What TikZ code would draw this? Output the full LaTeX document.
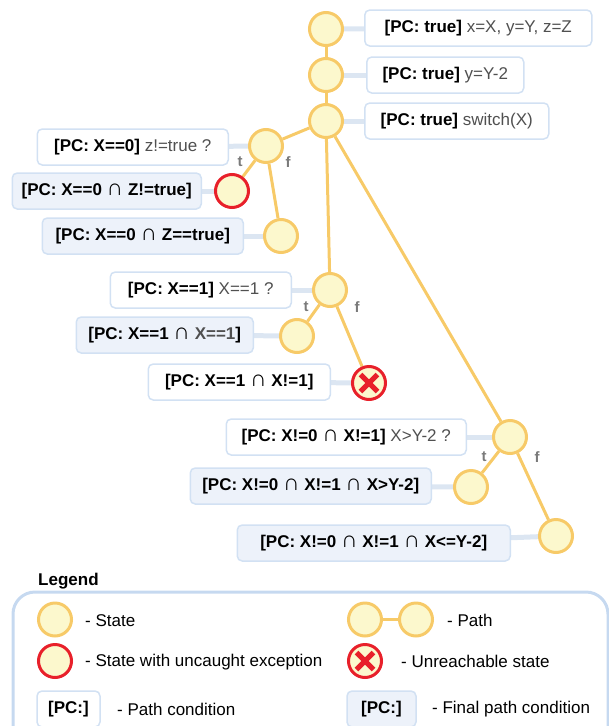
\documentclass[tikz,border=0pt]{standalone}
\usepackage{fontspec}
\setmainfont{Liberation Sans}
\usetikzlibrary{backgrounds}
\definecolor{statefill}{HTML}{FCF8CD}
\definecolor{stateline}{HTML}{F7CA68}
\definecolor{errline}{HTML}{E8202A}
\definecolor{linkline}{HTML}{DCE6F2}
\definecolor{boxline}{HTML}{D2E1F3}
\definecolor{finalfill}{HTML}{EDF2FA}
\definecolor{legendline}{HTML}{C6D9F0}
\definecolor{condgray}{HTML}{505050}
\definecolor{tfgray}{HTML}{7A7A7A}
\newcommand{\cond}[1]{{\color{condgray}#1}}
\newcommand{\isect}{\scalebox{1.35}{∩}}
\newcommand{\txtsize}{\fontsize{17}{20}\selectfont}

\begin{document}
\begin{tikzpicture}
  [x=1pt, y=-1pt,
   state/.style={shape=circle, draw=stateline, fill=statefill, line width=3pt,
     minimum size=33pt, inner sep=0pt},
   errstate/.style={state, draw=errline},
   deadstate/.style={errstate, path picture={
     \draw[errline, line width=5pt]
       ([shift={(-8.5pt,-8.5pt)}]path picture bounding box.center) --
       ([shift={(8.5pt,8.5pt)}]path picture bounding box.center)
       ([shift={(-8.5pt,8.5pt)}]path picture bounding box.center) --
       ([shift={(8.5pt,-8.5pt)}]path picture bounding box.center);}},
   pcbox/.style={draw=boxline, fill=white, line width=1.5pt, rounded corners=5pt,
     minimum height=36pt, inner xsep=6pt, font=\txtsize},
   finalbox/.style={pcbox, fill=finalfill},
   edge/.style={stateline, line width=3pt},
   link/.style={linkline, line width=5pt},
   tf/.style={text=tfgray, font=\fontsize{15}{18}\selectfont\bfseries, inner sep=0pt},
   legtext/.style={anchor=west, inner sep=0pt, font=\txtsize}]
  % Page size of the reference
  \useasboundingbox (0,0) rectangle (609,726);

  % States of the execution tree
  \node (s1) at (326,29) [state] {};
  \node (s2) at (326,75) [state] {};
  \node (s3) at (326,121) [state] {};
  \node (s4) at (266,146) [state] {};
  \node (s5) at (232,191) [errstate] {};
  \node (s6) at (281,236) [state] {};
  \node (s7) at (330,290) [state] {};
  \node (s8) at (297,336) [state] {};
  \node (s9) at (369,383) [deadstate] {};
  \node (s10) at (510,437) [state] {};
  \node (s11) at (471,487) [state] {};
  \node (s12) at (556,536) [state] {};

  % Path conditions next to the states
  \node (b1) at (364,28) [pcbox, anchor=west, minimum width=227pt]
    {\textbf{[PC: true]} \cond{x=X, y=Y, z=Z}};
  \node (b2) at (366,75) [pcbox, anchor=west, minimum width=157pt]
    {\textbf{[PC: true]} \cond{y=Y-2}};
  \node (b3) at (364,121) [pcbox, anchor=west, minimum width=184pt]
    {\textbf{[PC: true]} \cond{switch(X)}};
  \node (b4) at (229,147) [pcbox, anchor=east, minimum width=191pt]
    {\textbf{[PC: X==0]} \cond{z!=true ?}};
  \node (b5) at (202,191) [finalbox, anchor=east, minimum width=189pt]
    {\textbf{[PC: X==0 \isect{} Z!=true]}};
  \node (b6) at (244,236) [finalbox, anchor=east, minimum width=201pt]
    {\textbf{[PC: X==0 \isect{} Z==true]}};
  \node (b7) at (292,290) [pcbox, anchor=east, minimum width=181pt]
    {\textbf{[PC: X==1]} \cond{X==1 ?}};
  \node (b8) at (254,335) [finalbox, anchor=east, minimum width=177pt]
    {\textbf{[PC: X==1 \isect{} \cond{X==1}]}};
  \node (b9) at (331,382) [pcbox, anchor=east, minimum width=182pt]
    {\textbf{[PC: X==1 \isect{} X!=1]}};
  \node (b10) at (467,437) [pcbox, anchor=east, minimum width=240pt]
    {\textbf{[PC: X!=0 \isect{} X!=1]} \cond{X>Y-2 ?}};
  \node (b11) at (432,486) [finalbox, anchor=east, minimum width=241pt]
    {\textbf{[PC: X!=0 \isect{} X!=1 \isect{} X>Y-2]}};
  \node (b12) at (511,543) [finalbox, anchor=east, minimum width=273pt]
    {\textbf{[PC: X!=0 \isect{} X!=1 \isect{} X<=Y-2]}};

  % Branch labels
  \node (t4) at (240,162) [tf] {t};
  \node (f4) at (288,162) [tf] {f};
  \node (t7) at (306,307) [tf] {t};
  \node (f7) at (357,307) [tf] {f};
  \node (t10) at (484,457) [tf] {t};
  \node (f10) at (537,457) [tf] {f};

  \begin{scope}[on background layer]
    % Transitions between states
    \foreach \a/\b in {s1/s2, s2/s3, s3/s4, s4/s5, s4/s6, s3/s7, s7/s8, s7/s9,
      s3/s10, s10/s11, s10/s12}
      \draw[edge] (\a) -- (\b);
    % Links from states to their path conditions
    \foreach \i in {1,...,12}
      \draw[link] (s\i) -- (b\i);
  \end{scope}

  % Legend
  \node (legend) at (38,581) [anchor=west, inner sep=0pt, font=\txtsize\bfseries] {Legend};
  \begin{scope}
    \clip (0,0) rectangle (609,726);
    \draw[legendline, line width=3pt, rounded corners=22pt] (13,592) rectangle (608,770);
    \node (lpc) at (68.5,709) [pcbox, minimum width=63pt, inner xsep=0pt] {\textbf{[PC:]}};
    \node (lfinal) at (381.5,709) [finalbox, minimum width=69pt, inner xsep=0pt] {\textbf{[PC:]}};
  \end{scope}
  \node (lstate) at (55,619.5) [state] {};
  \node (lerr) at (55,661) [errstate] {};
  \node (lpath1) at (365,619.5) [state] {};
  \node (lpath2) at (416,619.5) [state] {};
  \draw[edge] (lpath1) -- (lpath2);
  \node (ldead) at (365,661) [deadstate] {};
  \node (tstate) at (85,621) [legtext] {- State};
  \node (terr) at (85,662) [legtext] {- State with uncaught exception};
  \node (tpc) at (117,709) [legtext] {- Path condition};
  \node (tpath) at (447,620) [legtext] {- Path};
  \node (tdead) at (401,661) [legtext] {- Unreachable state};
  \node (tfinal) at (432,709) [legtext] {- Final path condition};
\end{tikzpicture}
\end{document}
